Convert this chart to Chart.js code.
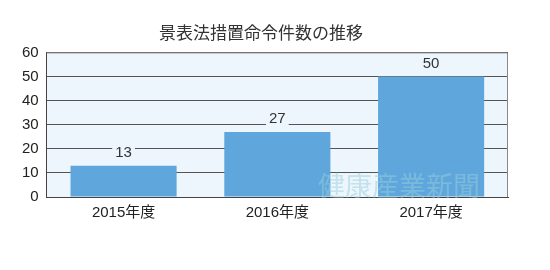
<!DOCTYPE html>
<html>
<head>
<meta charset="utf-8">
<script src="https://cdn.jsdelivr.net/npm/chart.js@4.4.0/dist/chart.umd.min.js"></script>
<style>
  html, body { margin: 0; padding: 0; background: #fff; }
  #wrap { width: 550px; height: 270px; }
</style>
</head>
<body>
<div id="wrap"><canvas id="chart"></canvas></div>
<script>
// data
const years = ['2015年度', '2016年度', '2017年度'];
const orders = [13, 27, 50];
const yTicks = [0, 10, 20, 30, 40, 50, 60];

const FONT = '"Liberation Sans", "Noto Sans CJK JP", sans-serif';

// plot background + frame on the right
const plotBg = {
    id: 'plotBg',
    beforeDraw(chart) {
        const { ctx, chartArea: a } = chart;
        ctx.save();
        ctx.fillStyle = '#eef6fd';
        ctx.fillRect(a.left, a.top, a.right - a.left, a.bottom - a.top);
        ctx.restore();
    },
    afterDraw(chart) {
        const { ctx, chartArea: a } = chart;
        ctx.save();
        ctx.strokeStyle = '#888';
        ctx.lineWidth = 1;
        ctx.beginPath();
        ctx.moveTo(a.left, a.top + 0.5);
        ctx.lineTo(a.right - 0.5, a.top + 0.5);
        ctx.lineTo(a.right - 0.5, a.bottom);
        ctx.stroke();
        ctx.restore();
    }
};

// value labels with a background patch that breaks the grid line
const valueLabels = {
    id: 'valueLabels',
    afterDatasetsDraw(chart) {
        const { ctx } = chart;
        const meta = chart.getDatasetMeta(0);
        ctx.save();
        ctx.font = '15px ' + FONT;
        ctx.textAlign = 'center';
        ctx.textBaseline = 'middle';
        meta.data.forEach((bar, i) => {
            const txt = String(orders[i]);
            const w = ctx.measureText(txt).width;
            const y = bar.y - 13;
            ctx.fillStyle = '#eef6fd';
            ctx.fillRect(bar.x - w / 2 - 3, y - 8, w + 6, 16);
            ctx.fillStyle = '#333';
            ctx.fillText(txt, bar.x, y);
        });
        ctx.restore();
    }
};

// watermark
const watermark = {
    id: 'watermark',
    afterDraw(chart) {
        const { ctx } = chart;
        ctx.save();
        ctx.font = '27px "Noto Sans CJK JP", serif';
        ctx.fillStyle = 'rgba(150, 205, 220, 0.5)';
        ctx.textAlign = 'left';
        ctx.textBaseline = 'middle';
        ctx.fillText('健康産業新聞', 318, 186);
        ctx.restore();
    }
};

new Chart(document.getElementById('chart'), {
    type: 'bar',
    data: {
        labels: years,
        datasets: [{
            data: orders,
            backgroundColor: '#5fa6dc',
            borderWidth: 0,
            barPercentage: 0.69,
            categoryPercentage: 1
        }]
    },
    options: {
        responsive: true,
        maintainAspectRatio: false,
        animation: false,
        layout: { padding: { left: 14, right: 42, top: 24, bottom: 41 } },
        plugins: {
            legend: { display: false },
            tooltip: { enabled: false },
            title: {
                display: true,
                text: '景表法措置命令件数の推移',
                color: '#333',
                font: { family: FONT, size: 17, weight: 'normal' },
                padding: { top: 0, bottom: 8 }
            }
        },
        scales: {
            x: {
                grid: { display: false, drawTicks: false },
                border: { color: '#444', width: 1 },
                ticks: { color: '#222', font: { family: FONT, size: 15 }, padding: 7 }
            },
            y: {
                min: 0,
                max: 60,
                afterBuildTicks(axis) { axis.ticks = yTicks.map(v => ({ value: v })); },
                grid: { color: '#555', lineWidth: 1, drawTicks: false },
                border: { color: '#444', width: 1 },
                ticks: { color: '#222', font: { family: FONT, size: 15 }, padding: 8 }
            }
        }
    },
    plugins: [plotBg, valueLabels, watermark]
});
</script>
</body>
</html>
